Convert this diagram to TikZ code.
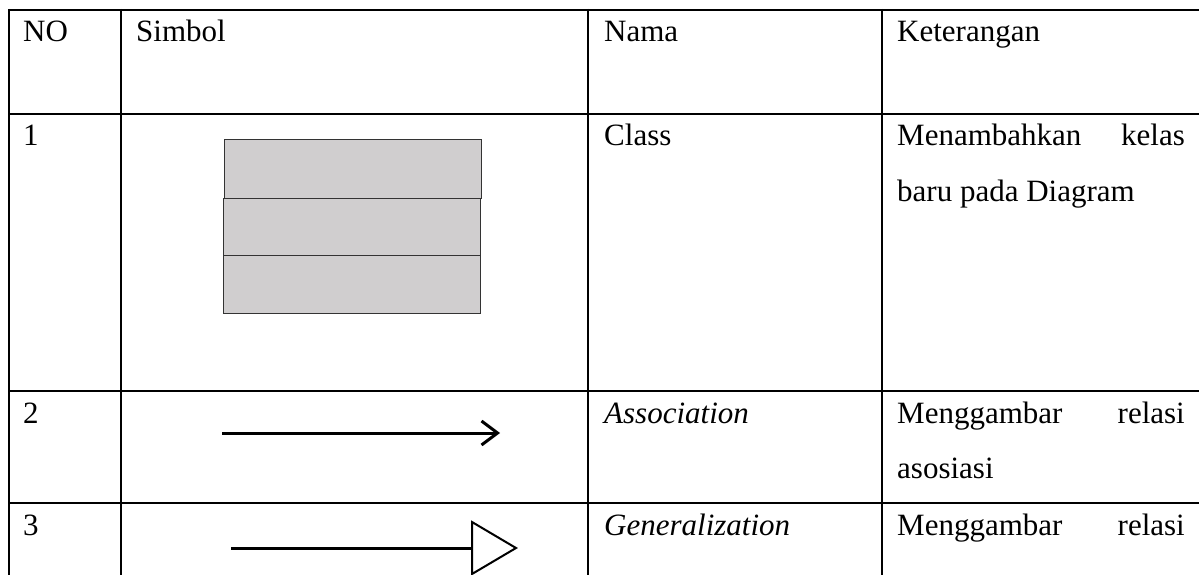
\documentclass[tikz,border=0pt]{standalone}
\usepackage{fontspec}
\setmainfont{Liberation Serif}
\usetikzlibrary{arrows.meta}
\definecolor{classgray}{HTML}{D0CECF}
\definecolor{classedge}{HTML}{333333}
\begin{document}
\begin{tikzpicture}[x=1pt,y=-1pt,
  grid/.style={line width=2pt,black},
  cell/.style={anchor=base west,inner sep=0pt,font=\fontsize{31}{55}\selectfont},
  cellr/.style={anchor=base east,inner sep=0pt,font=\fontsize{31}{55}\selectfont},
  classbox/.style={draw=classedge,fill=classgray,line width=1.4pt,anchor=north west,
    inner sep=0pt,minimum width=257pt},
  assoc/.style={line width=3pt,-{Straight Barb[length=16pt,width=24pt,line width=3pt]}},
  genline/.style={line width=3pt},
  gentri/.style={draw,line width=2pt,fill=white,line join=miter}
]
\useasboundingbox (0,0) rectangle (1199,575);
% table rules
\draw[grid] (9,10) -- (1205,10);
\draw[grid] (9,114) -- (1205,114);
\draw[grid] (9,391) -- (1205,391);
\draw[grid] (9,503) -- (1205,503);
\foreach \cx in {9,121,588,882} \draw[grid] (\cx,9) -- (\cx,580);
% header
\node[cell] (hno) at (23,42) {NO};
\node[cell] (hsym) at (136,42) {Simbol};
\node[cell] (hname) at (604,42) {Nama};
\node[cell] (hdesc) at (897,42) {Keterangan};
% row 1: class symbol with three compartments
\node[cell] (n1) at (23,146) {1};
\node[classbox,minimum height=59pt] (c1) at (224,139) {};
\node[classbox,minimum height=57pt] (c2) at (223,198) {};
\node[classbox,minimum height=58pt] (c3) at (223,255) {};
\node[cell] (nm1) at (604,146) {Class};
\node[cell] (d1a) at (897,146) {Menambahkan};
\node[cellr] (d1b) at (1185,146) {kelas};
\node[cell] (d1c) at (897,201) {baru pada Diagram};
% row 2: association
\node[cell] (n2) at (23,423) {2};
\coordinate (a1) at (222,433);
\coordinate (a2) at (500,433);
\draw[assoc] (a1) -- (a2);
\node[cell] (nm2) at (604,423) {\itshape Association};
\node[cell] (d2a) at (897,423) {Menggambar};
\node[cellr] (d2b) at (1185,423) {relasi};
\node[cell] (d2c) at (897,478) {asosiasi};
% row 3: generalization
\node[cell] (n3) at (23,535) {3};
\coordinate (g1) at (231,548);
\coordinate (g2) at (472,548);
\draw[genline] (g1) -- (g2);
\draw[gentri] (472,522) -- (516,548) -- (472,574) -- cycle;
\node[cell] (nm3) at (604,535) {\itshape Generalization};
\node[cell] (d3a) at (897,535) {Menggambar};
\node[cellr] (d3b) at (1185,535) {relasi};
\end{tikzpicture}
\end{document}
